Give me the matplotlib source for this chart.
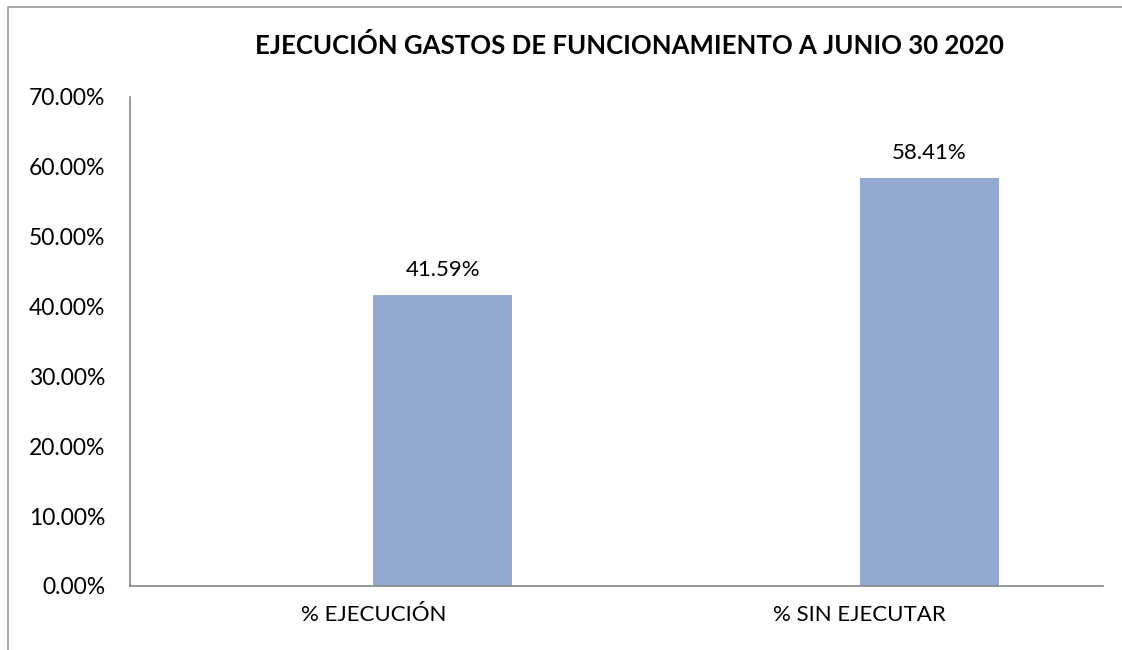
import matplotlib.pyplot as plt
from matplotlib.lines import Line2D

# chart data
categories = ["% EJECUCIÓN", "% SIN EJECUTAR"]
values = [41.59, 58.41]
title = "EJECUCIÓN GASTOS DE FUNCIONAMIENTO A JUNIO 30 2020"

plt.rcParams["font.family"] = ["Lato", "DejaVu Sans"]

fig = plt.figure(figsize=(11.22, 6.5), dpi=100)
ax = fig.add_axes([0.1159, 0.0985, 0.8672, 0.7523])

# outer chart frame (only top/left edge fall inside the picture)
fx, fy = 8 / 1122, 1 - 7 / 650
fig.lines.append(Line2D([fx, fx, 1.05], [-0.05, fy, fy], transform=fig.transFigure,
                        color="#9a9a9a", linewidth=1.2))

# Excel style: bars sit right of category center (empty first series)
width = 0.286
xs = [i + width / 2 for i in range(len(categories))]
ax.bar(xs, values, width=width, color="#95aad1", edgecolor="none")

for x, v in zip(xs, values):
    ax.text(x, v + 2.2, f"{v:.2f}%", ha="center", va="bottom", fontsize=16)

ax.set_xlim(-0.5, 1.5)
ax.set_ylim(0, 70)
ax.set_yticks(range(0, 71, 10))
ax.set_yticklabels([f"{t:.2f}%" for t in range(0, 71, 10)], fontsize=16.5)
ax.set_xticks(range(len(categories)))
ax.set_xticklabels(categories, fontsize=16)
ax.tick_params(length=0, pad=18)
ax.tick_params(axis="x", pad=14)

for side in ["top", "right"]:
    ax.spines[side].set_visible(False)
for side in ["left", "bottom"]:
    ax.spines[side].set_color("#868686")
    ax.spines[side].set_linewidth(1.2)

fig.text(0.5606, 0.93, title, ha="center", va="center", fontsize=18.5, fontweight="bold")

fig.savefig("out.png", dpi=100)
